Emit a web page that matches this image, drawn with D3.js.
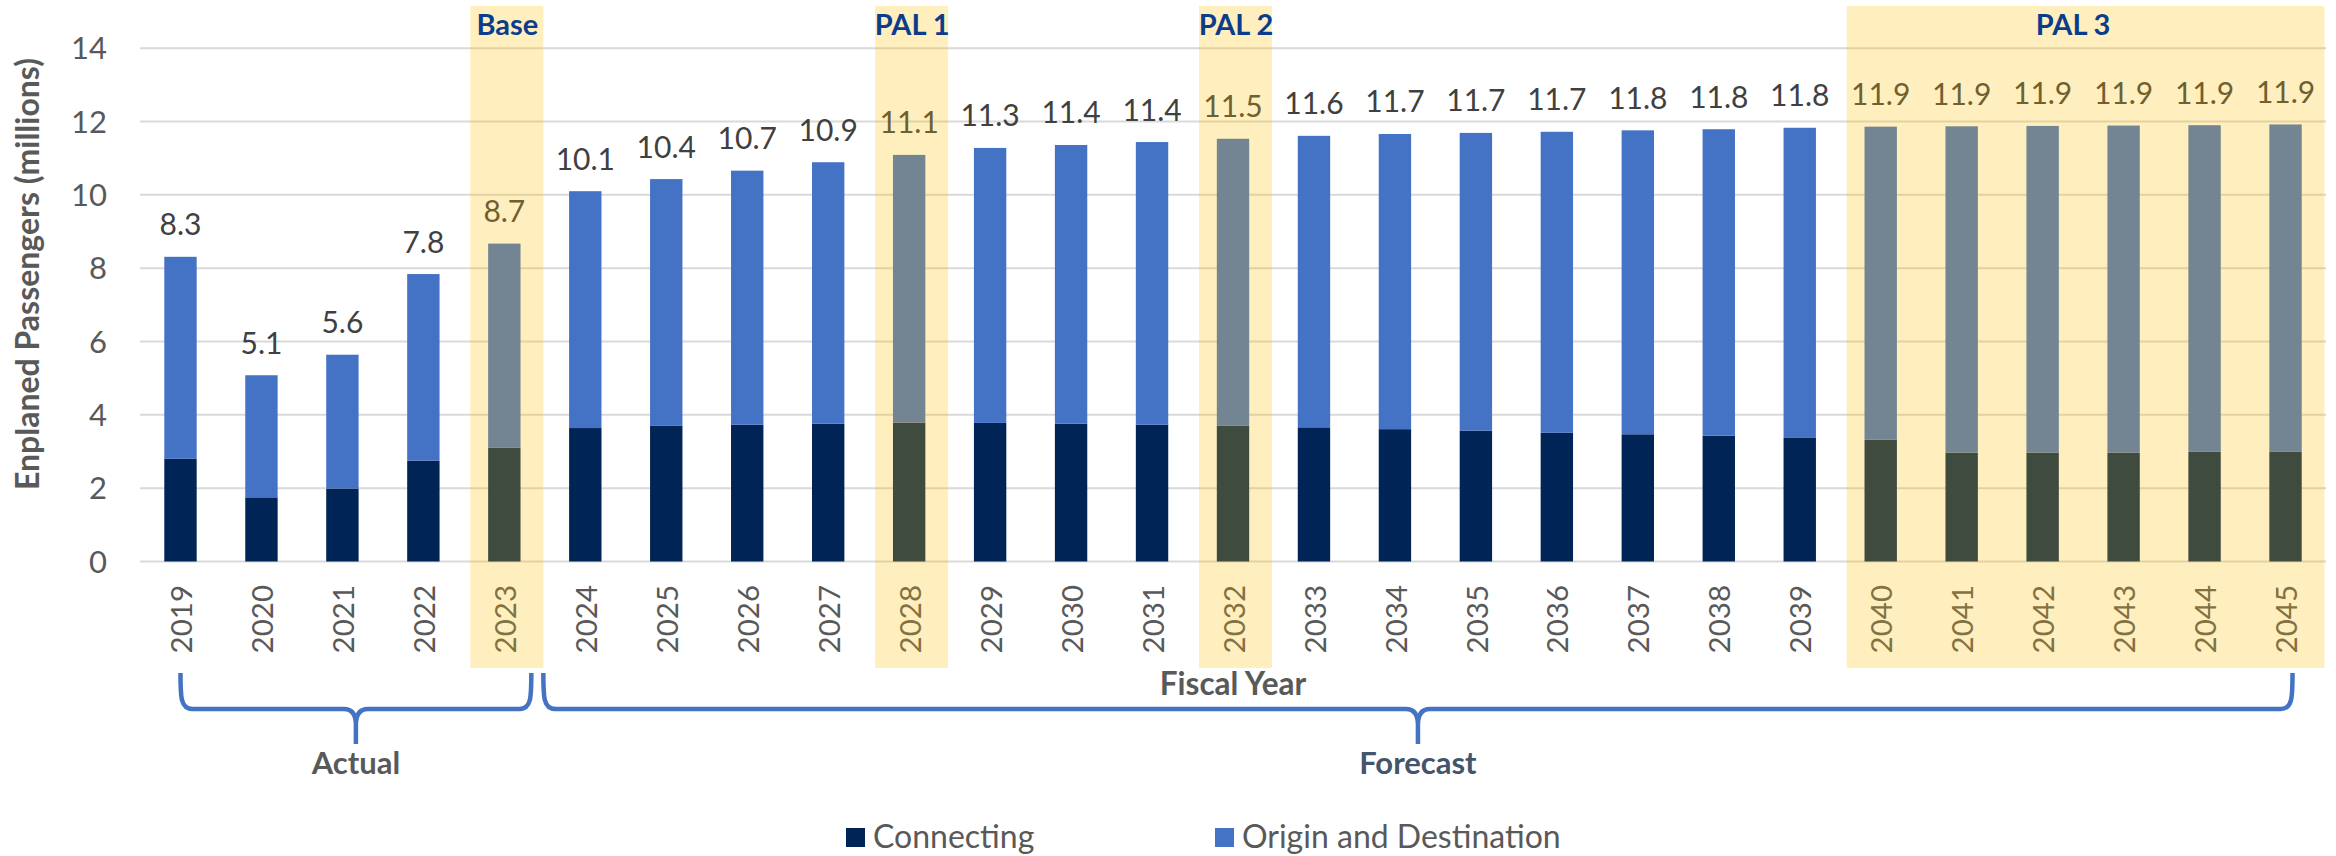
<!DOCTYPE html>
<html>
<head>
<meta charset="utf-8">
<script src="https://cdn.jsdelivr.net/npm/d3@7"></script>
<style>
  html, body { margin: 0; padding: 0; background: #fff; }
  svg { display: block; }
  text { font-family: Lato, "Open Sans", sans-serif; }
</style>
</head>
<body>
<svg id="chart" width="2336" height="856"></svg>
<script>
// ---------- data ----------
const years = ["2019","2020","2021","2022","2023","2024","2025","2026","2027","2028","2029","2030","2031","2032","2033","2034","2035","2036","2037","2038","2039","2040","2041","2042","2043","2044","2045"];
const connecting = [2.80, 1.75, 1.99, 2.75, 3.11, 3.64, 3.70, 3.73, 3.76, 3.79, 3.78, 3.76, 3.73, 3.70, 3.66, 3.61, 3.57, 3.51, 3.47, 3.43, 3.37, 3.32, 2.97, 2.97, 2.97, 2.99, 2.99];
const originDest = [5.51, 3.33, 3.65, 5.09, 5.56, 6.46, 6.73, 6.93, 7.13, 7.30, 7.50, 7.60, 7.71, 7.83, 7.95, 8.05, 8.12, 8.21, 8.29, 8.36, 8.46, 8.54, 8.90, 8.91, 8.92, 8.91, 8.93];
const yTicks = [0, 2, 4, 6, 8, 10, 12, 14];
const seriesNames = ["Connecting", "Origin and Destination"];
const highlightLabels = ["Base", "PAL 1", "PAL 2", "PAL 3"];
const highlightStart = ["2023", "2028", "2032", "2040"];
const highlightEnd = ["2023", "2028", "2032", "2045"];
const periodLabels = ["Actual", "Forecast"];
const periodStart = ["2019", "2023"];
const periodEnd = ["2023", "2045"];

// ---------- styles ----------
const colConn = "#002456";
const colOD = "#4472C4";
const grid = "#D9D9D9";
const txt = "#595959";
const lbl = "#404040";

const svg = d3.select("#chart");
const x = d3.scaleBand().domain(years).range([140, 2326]).paddingInner(0.6).paddingOuter(0.3);
const y = d3.scaleLinear().domain([0, 14]).range([561.5, 48.2]);
const bw = x.bandwidth();
const cx = d => x(d) + bw / 2;

// gridlines
svg.append("g").selectAll("line").data(yTicks).join("line")
  .attr("x1", 140).attr("x2", 2326)
  .attr("y1", d => y(d)).attr("y2", d => y(d))
  .attr("stroke", grid).attr("stroke-width", 2);

// y tick labels
svg.append("g").selectAll("text").data(yTicks).join("text")
  .attr("x", 107).attr("y", d => y(d)).attr("dy", "0.36em")
  .attr("text-anchor", "end").attr("fill", txt)
  .style("font-size", "31px").text(d => d);

// y axis title
svg.append("text")
  .attr("transform", "translate(39,274) rotate(-90)")
  .attr("text-anchor", "middle").attr("fill", txt)
  .style("font-size", "32px").style("font-weight", "bold")
  .text("Enplaned Passengers (millions)");

// stacked bars
const rows = years.map((yr, i) => ({ yr, conn: connecting[i], od: originDest[i], total: connecting[i] + originDest[i] }));
const gb = svg.append("g");
gb.selectAll("rect.conn").data(rows).join("rect").attr("class", "conn")
  .attr("x", d => x(d.yr)).attr("width", bw)
  .attr("y", d => y(d.conn)).attr("height", d => y(0) - y(d.conn))
  .attr("fill", colConn);
gb.selectAll("rect.od").data(rows).join("rect").attr("class", "od")
  .attr("x", d => x(d.yr)).attr("width", bw)
  .attr("y", d => y(d.total)).attr("height", d => y(d.conn) - y(d.total))
  .attr("fill", colOD);

// data labels
const fmt = d3.format(".1f");
svg.append("g").selectAll("text").data(rows).join("text")
  .attr("x", d => cx(d.yr)).attr("y", d => y(d.total) - 21.5)
  .attr("text-anchor", "middle").attr("fill", lbl)
  .style("font-size", "30px").text(d => fmt(d.total));

// x tick labels (rotated)
svg.append("g").selectAll("text").data(years).join("text")
  .attr("transform", d => `translate(${cx(d) + 1},585) rotate(-90)`)
  .attr("dy", "0.36em").attr("text-anchor", "end").attr("fill", txt)
  .style("font-size", "29.5px").text(d => d);

// x axis title
svg.append("text").attr("x", (140 + 2326) / 2).attr("y", 695)
  .attr("text-anchor", "middle").attr("fill", txt)
  .style("font-size", "31.5px").style("font-weight", "bold").text("Fiscal Year");

// highlight overlays (semi-transparent, on top of bars/labels)
const hl = highlightLabels.map((l, i) => ({ l, s: highlightStart[i], e: highlightEnd[i] }));
svg.append("g").selectAll("rect").data(hl).join("rect")
  .attr("x", d => cx(d.s) - 34).attr("width", d => cx(d.e) + 39 - (cx(d.s) - 34))
  .attr("y", 6).attr("height", 662)
  .attr("fill", "#FFC000").attr("fill-opacity", 0.25);
svg.append("g").selectAll("text").data(hl).join("text")
  .attr("x", d => d.s === d.e ? cx(d.s) + 3 : (cx(d.s) + cx(d.e)) / 2 - 10)
  .attr("y", 35).attr("text-anchor", "middle").attr("fill", "#0B3D8C")
  .style("font-size", "29px").style("font-weight", "bold").text(d => d.l);

// period braces
const pr = periodLabels.map((l, i) => ({ l, s: periodStart[i], e: periodEnd[i], i }));
const yT = 673, yH = 709, yB = 744, r = 12;
function bracePath(x1, x2) {
  const xm = (x1 + x2) / 2;
  return `M${x1},${yT} C${x1},${yH - r} ${x1},${yH} ${x1 + r},${yH} H${xm - r} Q${xm},${yH} ${xm},${yH + r + 4} V${yB}` +
         ` M${xm},${yB} V${yH + r + 4} Q${xm},${yH} ${xm + r},${yH} H${x2 - r} C${x2},${yH} ${x2},${yH - r} ${x2},${yT}`;
}
const braceX = d => d.i === 0 ? [cx(d.s), cx(d.e) + 27] : [cx(d.s) + 39, cx(d.e) + 7];
svg.append("g").selectAll("path").data(pr).join("path")
  .attr("d", d => { const [a, b] = braceX(d); return bracePath(a, b); })
  .attr("fill", "none").attr("stroke", colOD).attr("stroke-width", 4.5).attr("stroke-linecap", "butt");
svg.append("g").selectAll("text").data(pr).join("text")
  .attr("x", d => { const [a, b] = braceX(d); return (a + b) / 2; })
  .attr("y", 774).attr("text-anchor", "middle")
  .attr("fill", d => d.i === 0 ? txt : "#44546A")
  .style("font-size", "31px").style("font-weight", "bold").text(d => d.l);

// legend
const lg = svg.append("g");
const legX = [846, 1215];
const legCol = [colConn, colOD];
seriesNames.forEach((n, i) => {
  lg.append("rect").attr("x", legX[i]).attr("y", 828).attr("width", 19).attr("height", 19).attr("fill", legCol[i]);
  lg.append("text").attr("x", legX[i] + 27).attr("y", 848).attr("fill", txt)
    .style("font-size", "32px").text(n);
});
</script>
</body>
</html>
